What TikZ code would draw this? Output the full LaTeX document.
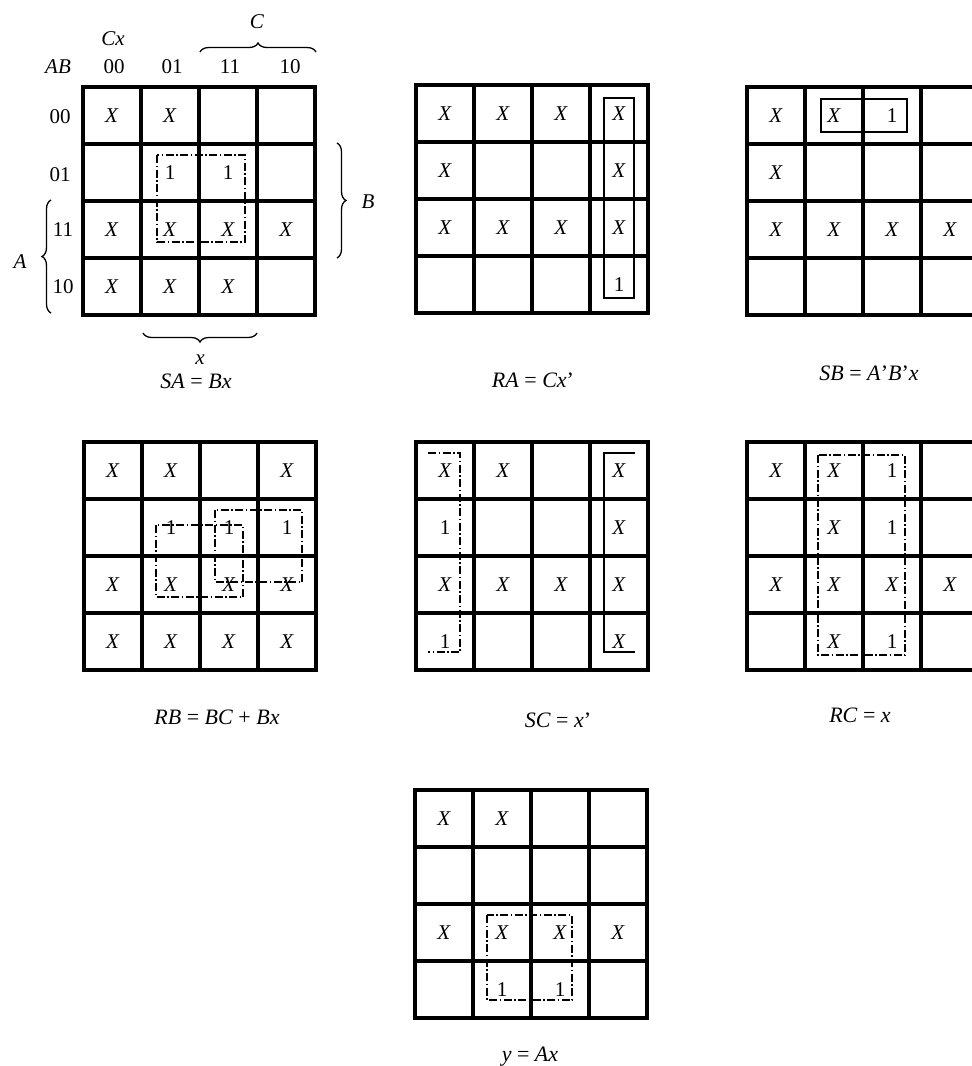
\documentclass[tikz,border=0pt]{standalone}
\usepackage{fontspec}
\setmainfont{Liberation Serif}
\usetikzlibrary{decorations.pathreplacing}
\newcommand\X{\textit{X}}
\newcommand\kmapgrid[2]{%
  \begin{scope}[shift={(#1,#2)}]
    \foreach \i in {1,2,3} {
      \draw[gridline] ({58*\i},0) -- ({58*\i},228);
      \draw[gridline] (0,{57*\i}) -- (232,{57*\i});
    }
    \draw[gridline] (0,0) rectangle (232,228);
  \end{scope}}
\begin{document}
\begin{tikzpicture}[x=1pt,y=-1pt,
  gridline/.style={line width=3.3pt,line cap=rect},
  cell/.style={font=\fontsize{21}{21}\selectfont,inner sep=0pt},
  lab/.style={font=\fontsize{21}{21}\selectfont,inner sep=0pt},
  form/.style={font=\fontsize{22}{22}\selectfont,inner sep=0pt},
  grp/.style={line width=1.2pt,dash pattern=on 8pt off 2.5pt on 1.5pt off 2.5pt},
  grpsolid/.style={line width=1.2pt},
  brc/.style={line width=1.3pt,decorate,decoration={brace,amplitude=9pt}}]
\useasboundingbox (0,0) rectangle (972,1066);

% ---------- Map 1: SA ----------
\kmapgrid{83}{87}
\begin{scope}[shift={(83,87)}]
\foreach \r/\c/\t [count=\k] in {0/0/\X,0/1/\X,1/1/1,1/2/1,2/0/\X,2/1/\X,2/2/\X,2/3/\X,3/0/\X,3/1/\X,3/2/\X}
  \node[cell] (a\k) at ({29+58*\c},{28.5+57*\r}) {\t};
\end{scope}
\draw[grp] (157,155) rectangle (245,242);
\node[lab] (ab) at (58,67) {\textit{AB}};
\node[lab] (cx) at (113,39) {\textit{Cx}};
\node[lab] (h00) at (114,67) {00};
\node[lab] (h01) at (172,67) {01};
\node[lab] (h11) at (230,67) {11};
\node[lab] (h10) at (290,67) {10};
\node[lab] (r00) at (60,117) {00};
\node[lab] (r01) at (60,175) {01};
\node[lab] (r11) at (63,230) {11};
\node[lab] (r10) at (63,287) {10};
\draw[brc] (200,52) -- (316,52);
\node[lab] (lc) at (257,22) {\textit{C}};
\draw[brc] (337,143) -- (337,258);
\node[lab] (lb) at (368,202) {\textit{B}};
\draw[brc] (51,313) -- (51,200);
\node[lab] (la) at (20,262) {\textit{A}};
\draw[brc] (257,333) -- (143,333);
\node[lab] (lx) at (200,360) {\textit{x}};
\node[form] (f1) at (196,381) {\textit{SA} = \textit{Bx}};

% ---------- Map 2: RA ----------
\kmapgrid{416}{85}
\begin{scope}[shift={(416,85)}]
\foreach \r/\c/\t [count=\k] in {0/0/\X,0/1/\X,0/2/\X,0/3/\X,1/0/\X,1/3/\X,2/0/\X,2/1/\X,2/2/\X,2/3/\X,3/3/1}
  \node[cell] (b\k) at ({29+58*\c},{28.5+57*\r}) {\t};
\end{scope}
\draw[grpsolid] (604,98) rectangle (634,298);
\node[form] (f2) at (533,380) {\textit{RA} = \textit{Cx}’};

% ---------- Map 3: SB ----------
\kmapgrid{747}{87}
\begin{scope}[shift={(747,87)}]
\foreach \r/\c/\t [count=\k] in {0/0/\X,0/1/\X,0/2/1,1/0/\X,2/0/\X,2/1/\X,2/2/\X,2/3/\X}
  \node[cell] (c\k) at ({29+58*\c},{28.5+57*\r}) {\t};
\end{scope}
\draw[grpsolid] (821,99) rectangle (907,132);
\node[form] (f3) at (869,373) {\textit{SB} = \textit{A}’\textit{B}’\textit{x}};

% ---------- Map 4: RB ----------
\kmapgrid{84}{442}
\begin{scope}[shift={(84,442)}]
\foreach \r/\c/\t [count=\k] in {0/0/\X,0/1/\X,0/3/\X,1/1/1,1/2/1,1/3/1,2/0/\X,2/1/\X,2/2/\X,2/3/\X,3/0/\X,3/1/\X,3/2/\X,3/3/\X}
  \node[cell] (d\k) at ({29+58*\c},{28.5+57*\r}) {\t};
\end{scope}
\draw[grp] (215,510) rectangle (302,582);
\draw[grp] (156,525) rectangle (243,597);
\node[form] (f4) at (217,717) {\textit{RB} = \textit{BC} + \textit{Bx}};

% ---------- Map 5: SC ----------
\kmapgrid{416}{442}
\begin{scope}[shift={(416,442)}]
\foreach \r/\c/\t [count=\k] in {0/0/\X,0/1/\X,0/3/\X,1/0/1,1/3/\X,2/0/\X,2/1/\X,2/2/\X,2/3/\X,3/0/1,3/3/\X}
  \node[cell] (e\k) at ({29+58*\c},{28.5+57*\r}) {\t};
\end{scope}
\draw[grp] (428,453) -- (460,453) -- (460,652) -- (428,652);
\draw[grpsolid] (635,453) -- (604,453) -- (604,652) -- (635,652);
\node[form] (f5) at (558,720) {\textit{SC} = \textit{x}’};

% ---------- Map 6: RC ----------
\kmapgrid{747}{442}
\begin{scope}[shift={(747,442)}]
\foreach \r/\c/\t [count=\k] in {0/0/\X,0/1/\X,0/2/1,1/1/\X,1/2/1,2/0/\X,2/1/\X,2/2/\X,2/3/\X,3/1/\X,3/2/1}
  \node[cell] (g\k) at ({29+58*\c},{28.5+57*\r}) {\t};
\end{scope}
\draw[grp] (818,455) rectangle (905,655);
\node[form] (f6) at (860,715) {\textit{RC} = \textit{x}};

% ---------- Map 7: y ----------
\kmapgrid{415}{790}
\begin{scope}[shift={(415,790)}]
\foreach \r/\c/\t [count=\k] in {0/0/\X,0/1/\X,2/0/\X,2/1/\X,2/2/\X,2/3/\X,3/1/1,3/2/1}
  \node[cell] (h\k) at ({29+58*\c},{28.5+57*\r}) {\t};
\end{scope}
\draw[grp] (487,915) rectangle (572,1000);
\node[form] (f7) at (530,1057) {\textit{y} = \textit{Ax}};
\end{tikzpicture}
\end{document}
